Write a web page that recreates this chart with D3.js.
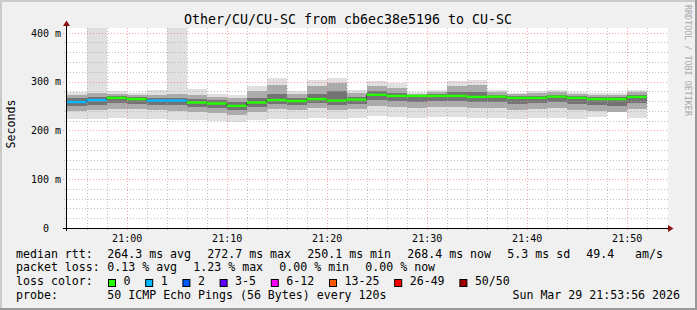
<!DOCTYPE html>
<html><head><meta charset="utf-8">
<script src="https://cdn.jsdelivr.net/npm/d3@7"></script>
<style>
body{margin:0;background:#f0f0f0;}
svg{display:block;}
text{font-family:"DejaVu Sans Mono",monospace;white-space:pre;}
</style>
</head><body>
<svg id="c" width="697" height="310"></svg>
<script>
// ---- data ----
const colTimes = ["20:54","20:56","20:58","21:00","21:02","21:04","21:06","21:08","21:10","21:12",
  "21:14","21:16","21:18","21:20","21:22","21:24","21:26","21:28","21:30","21:32",
  "21:34","21:36","21:38","21:40","21:42","21:44","21:46","21:48","21:50"];
const median = [258,262,266.5,264,261,261,257,255,250.1,257,262,260,264,261,263,272.7,270.5,270.5,270.5,270.5,268.5,269,266.5,266.5,269,266.5,264,264,268.4];
const smokeMax = [279,420,280,277,282,420,285,275,273,291,307,280,303,308,282,301,296,279,283,301,303,283,277,281,283,279,277,277,283];
const p90 = [272,276,274,272,273,274,272,268,266,280,292,274,290,296,276,290,286,275,278,290,292,278,274,276,278,275,272,273,278];
const p75 = [266,268,270,268,266,266,264,262,258,266,275,266,275,280,268,280,276,273,274,278,278,273,270,270,273,270,268,269,273];
const p25 = [250,252,256,254,252,252,248,246,242,248,254,252,255,252,254,262,260,258,260,260,258,258,254,256,258,254,252,250,256];
const p10 = [240,242,244,243,242,240,238,236,232,238,244,242,245,242,244,250,248,246,248,248,246,246,242,244,246,242,240,238,244];
const smokeMin = [224,224,225,224,224,222,222,220,218,222,224,224,226,224,226,230,228,226,228,228,226,226,224,226,226,224,228,238,226];
const lossCount = [1,1,0,0,1,1,0,0,0,0,0,0,0,0,0,0,0,0,0,0,0,0,0,0,0,0,0,0,0];
const xTickLabels = ["21:00","21:10","21:20","21:30","21:40","21:50"];
const yTickValues = [0,100,200,300,400];
const lossLabels = ["0","1","2","3-5","6-12","13-25","26-49","50/50"];
const lossColors = ["#26ff00","#00b8ff","#0059ff","#5e00ff","#ff00ff","#ff5500","#ff0000","#a10000"];
const lossUpper = [0,1,2,5,12,25,49,50];
const title = "Other/CU/CU-SC from cb6ec38e5196 to CU-SC";
const statsRow1 = ["264.3 ms avg","272.7 ms max","250.1 ms min","268.4 ms now","5.3 ms sd","49.4"];
const statsRow2 = ["0.13 % avg","1.23 % max","0.00 % min","0.00 % now"];
const probeText = "50 ICMP Echo Pings (56 Bytes) every 120s";
const dateText = "Sun Mar 29 21:53:56 2026";

// ---- scales ----
const toMin = s => { const [h,m] = s.split(":").map(Number); return h*60+m; };
const tStart = toMin("20:53")+56/60, tEnd = toMin("21:53")+56/60;
const x = d3.scaleLinear().domain([tStart,tEnd]).range([66,666]);
const y = d3.scaleLinear().domain([0,409.6]).range([228,28]);
const STEP = 2;

const svg = d3.select("#c");
// background + 3D border
svg.append("rect").attr("width",697).attr("height",310).attr("fill","#f0f0f0");
svg.append("rect").attr("x",0).attr("y",0).attr("width",697).attr("height",2).attr("fill","#cbcbcb");
svg.append("rect").attr("x",0).attr("y",0).attr("width",2).attr("height",310).attr("fill","#cbcbcb");
svg.append("rect").attr("x",0).attr("y",308).attr("width",697).attr("height",2).attr("fill","#999");
svg.append("rect").attr("x",695).attr("y",0).attr("width",2).attr("height",310).attr("fill","#999");

// canvas
svg.append("rect").attr("x",66).attr("y",28).attr("width",602).attr("height",200).attr("fill","#fff");
svg.append("clipPath").attr("id","clip").append("rect").attr("x",66).attr("y",28).attr("width",602).attr("height",200);

const g = svg.append("g").attr("clip-path","url(#clip)");
const cols = colTimes.map((t,i)=>({t0:toMin(t), i}));
const band = (lo,hi,color) => {
  g.selectAll(null).data(cols).enter().append("rect")
    .attr("x",d=>x(d.t0)).attr("width",d=>x(d.t0+STEP)-x(d.t0))
    .attr("y",d=>y(hi[d.i])).attr("height",d=>y(lo[d.i])-y(hi[d.i]))
    .attr("fill",color).attr("shape-rendering","crispEdges");
};
band(smokeMin,smokeMax,"#e0e0e0");
band(p10,p90,"#ababab");
band(p25,p75,"#737373");

// grid
const grid = svg.append("g");
const minorV = d3.range(toMin("20:56"), toMin("21:53"), 2).filter(m=>m%10!==0);
const majorV = xTickLabels.map(toMin);
grid.selectAll(null).data(minorV).enter().append("line")
  .attr("x1",d=>Math.round(x(d))+0.5).attr("x2",d=>Math.round(x(d))+0.5).attr("y1",28).attr("y2",231)
  .attr("stroke","rgba(170,170,170,0.75)").attr("stroke-dasharray","1,2");
grid.selectAll(null).data(majorV).enter().append("line")
  .attr("x1",d=>Math.round(x(d))+0.5).attr("x2",d=>Math.round(x(d))+0.5).attr("y1",28).attr("y2",231)
  .attr("stroke","rgba(255,95,95,0.6)").attr("stroke-dasharray","1,2");
const minorH = d3.range(20,409,20).filter(v=>v%100!==0);
grid.selectAll(null).data(minorH).enter().append("line")
  .attr("x1",64).attr("x2",668).attr("y1",d=>Math.round(y(d))+0.5).attr("y2",d=>Math.round(y(d))+0.5)
  .attr("stroke","rgba(170,170,170,0.75)").attr("stroke-dasharray","1,2");
grid.selectAll(null).data(yTickValues.filter(v=>v>0)).enter().append("line")
  .attr("x1",63).attr("x2",668).attr("y1",d=>Math.round(y(d))+0.5).attr("y2",d=>Math.round(y(d))+0.5)
  .attr("stroke","rgba(255,95,95,0.6)").attr("stroke-dasharray","1,2");

// median: dark step line + loss coloured segments
const lossColor = n => lossColors[lossUpper.findIndex(u=>n<=u)];
const stepLine = d3.line().curve(d3.curveStepAfter).x(d=>x(d.t0)).y(d=>y(median[d.i]));
svg.append("path").attr("d",stepLine(cols.concat([{t0:toMin("21:52"),i:28}])))
  .attr("fill","none").attr("stroke","#202020").attr("stroke-width",1);
svg.selectAll(null).data(cols).enter().append("rect")
  .attr("x",d=>x(d.t0)).attr("width",d=>x(d.t0+STEP)-x(d.t0))
  .attr("y",d=>y(median[d.i])-1.2).attr("height",2.4)
  .attr("fill",d=>lossColor(lossCount[d.i]));

// axes
const axisColor = "#000";
svg.append("line").attr("x1",63).attr("x2",670).attr("y1",228.5).attr("y2",228.5).attr("stroke",axisColor);
svg.append("line").attr("x1",66.5).attr("x2",66.5).attr("y1",231).attr("y2",25).attr("stroke",axisColor);
svg.append("path").attr("d","M668,225 L673.5,228.5 L668,232 Z").attr("fill","#8b1010");
svg.append("path").attr("d","M63,26 L66.5,20.5 L70,26 Z").attr("fill","#8b1010");

// tick labels
const xAxis = d3.axisBottom(x).tickValues(majorV).tickSize(0).tickFormat((d,i)=>xTickLabels[i]);
const xa = svg.append("g").attr("transform","translate(0,229)").call(xAxis);
xa.select(".domain").remove();
xa.selectAll("text").attr("dy",0).attr("y",12.5).attr("font-size","10px").attr("font-family","DejaVu Sans Mono").attr("fill","#000");
const yAxis = d3.axisLeft(y).tickValues(yTickValues).tickSize(0).tickFormat(d=> d===0 ? "0  " : d+" m");
const ya = svg.append("g").attr("transform","translate(61,0)").call(yAxis);
ya.select(".domain").remove();
ya.selectAll("text").attr("x",0).attr("dy","0.33em").attr("font-size","10px").attr("font-family","DejaVu Sans Mono").attr("fill","#000").style("white-space","pre");

// titles
svg.append("text").attr("x",348).attr("y",23.5).attr("text-anchor","middle").attr("font-size","13.3px").attr("fill","#000").text(title);
svg.append("text").attr("transform","translate(15,124) rotate(-90)").attr("text-anchor","middle").attr("font-size","11.6px").attr("fill","#000").text("Seconds");
svg.append("text").attr("transform","translate(685,5) rotate(90)").attr("text-anchor","start").attr("font-size","8.4px").attr("fill","#a8a8a8").text("RRDTOOL / TOBI OETIKER");

// legend (items separated by a fixed gap, like rrdtool)
const CW = 7.0, GAP = 16, COL = 107.3;
const leg = svg.append("g").attr("font-size","11.6px").attr("fill","#000");
const placeRow = (label, items, yb) => {
  leg.append("text").attr("x",16).attr("y",yb).text(label);
  let xx = COL;
  items.forEach(s => { leg.append("text").attr("x",xx).attr("y",yb).text(s); xx += s.length*CW + GAP; });
};
placeRow("median rtt:", statsRow1, 257.7);
leg.append("text").attr("x",635).attr("y",257.7).text("am/s");
placeRow("packet loss:", statsRow2, 271.3);
leg.append("text").attr("x",16).attr("y",285.3).text("loss color:");
let bx = 108.5;
lossLabels.forEach((l,i)=>{
  leg.append("rect").attr("x",bx).attr("y",279.5).attr("width",7).attr("height",7)
    .attr("fill",lossColors[i]).attr("stroke","#000").attr("stroke-width",1);
  leg.append("text").attr("x",bx+15).attr("y",285.3).text(l);
  bx += 15 + l.length*CW + 15.2;
});
leg.append("text").attr("x",16).attr("y",299).text("probe:");
leg.append("text").attr("x",COL).attr("y",299).text(probeText);
leg.append("text").attr("x",680).attr("y",299).attr("text-anchor","end").text(dateText);
</script>
</body></html>
